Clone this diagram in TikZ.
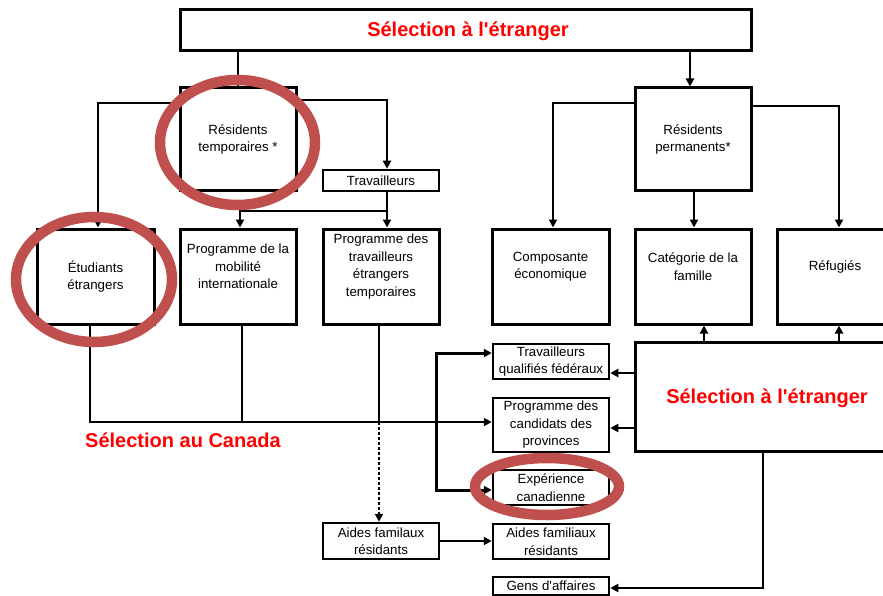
\documentclass[tikz,border=0pt]{standalone}
\usepackage{fontspec}
\setmainfont{Liberation Sans}[Ligatures=TeXOff]
\usetikzlibrary{arrows.meta}
\definecolor{ringc}{HTML}{C0504D}
\begin{document}
\begin{tikzpicture}[x=1pt,y=-1pt,
  box/.style={draw, line width=3pt, inner sep=0pt, align=center, minimum width=116pt, minimum height=95pt, font=\fontsize{13.3}{17.5}\selectfont},
  sbox/.style={draw, line width=2.5pt, inner sep=0pt, align=center, minimum width=116pt, font=\fontsize{13.3}{17.5}\selectfont},
  txt/.style={inner sep=0pt, align=center, font=\fontsize{13.3}{17.5}\selectfont},
  redtitle/.style={inner sep=0pt, text=red, font=\fontsize{20}{24}\selectfont\bfseries},
  ln/.style={line width=2.6pt},
  arr/.style={line width=2.6pt, -{Triangle[length=8pt,width=8pt]}},
  dotline/.style={line width=2.6pt, dash pattern=on 2.5pt off 2.5pt, -{Triangle[length=8pt,width=8pt]}},
  ring/.style={draw=ringc, line width=10.5pt}
]
\useasboundingbox (0,0) rectangle (883,596);

% top row
\node[box, minimum width=571pt, minimum height=41pt] (top) at (465.5,30.5) {};
\node[redtitle] (topt) at (468,31) {Sélection à l'étranger};
\node[box, minimum height=103pt] (rt) at (238,139.5) {Résidents\\temporaires *};
\node[box, minimum height=103pt] (rp) at (693,139.5) {Résidents\\permanents*};
\node[box, line width=2.5pt, minimum height=21pt] (trav) at (381,180.5) {Travailleurs};

% second row
\node[box, minimum width=117pt] (etu) at (95.5,276.5) {Étudiants\\étrangers};
\node[box] (pmi) at (238,276.5) {};
\node[txt] (pmit) at ([yshift=10pt]pmi.center) {Programme de la\\mobilité\\internationale};
\node[box] (ptet) at (381,276.5) {};
\node[txt] (ptett) at ([yshift=10pt]ptet.center) {Programme des\\travailleurs\\étrangers\\temporaires};
\node[box, minimum width=117pt] (comp) at (550.5,276.5) {};
\node[txt] (compt) at ([yshift=10pt]comp.center) {Composante\\économique};
\node[box] (cat) at (693,276.5) {};
\node[txt] (catt) at ([yshift=10pt]cat.center) {Catégorie de la\\famille};
\node[box] (ref) at (835,276.5) {};
\node[txt] (reft) at ([yshift=10pt]ref.center) {Réfugiés};

% right big box
\node[box, minimum width=265pt, minimum height=109pt] (big) at (767.5,396.5) {};
\node[redtitle] (bigt) at (767,398) {Sélection à l'étranger};

% programme boxes
\node[sbox, minimum height=35pt] (tqf) at (551,361.5) {Travailleurs\\qualifiés fédéraux};
\node[sbox, minimum height=54pt] (pcp) at (551,425) {Programme des\\candidats des\\provinces};
\node[sbox, minimum height=35pt] (exp) at (551,487.5) {Expérience\\canadienne};
\node[sbox, minimum height=35pt] (afr) at (551,541.5) {Aides familiaux\\résidants};
\node[sbox, minimum height=18pt] (ga) at (551,586) {Gens d'affaires};
\node[sbox, minimum height=36pt] (afl) at (381,541) {Aides familaux\\résidants};

\node[redtitle] (sac) at (183,440) {Sélection au Canada};

% helper coordinates
\coordinate (yjoin) at (0,211);
\coordinate (cy) at (0,422);
\coordinate (vx) at (436,422);
\coordinate (split) at ([xshift=6pt]trav.south |- yjoin);

% connectors
\draw[ln] (top.south -| rt.north) -- (rt.north);
\draw[arr] ([xshift=-3pt]rp.north |- top.south) -- ([xshift=-3pt]rp.north);
\draw[arr] ([yshift=36.5pt]rt.west) -| ([xshift=2.5pt]etu.north);
\draw[arr] ([yshift=39.5pt]rt.east) -| ([xshift=6pt]trav.north);
\draw[arr] ([xshift=6pt]trav.south) -- ([xshift=6pt]ptet.north);
\draw[arr] (split) -| ([xshift=2pt]pmi.north);
\draw[arr] ([yshift=36.5pt]rp.west) -| ([xshift=2.5pt]comp.north);
\draw[arr] ([xshift=1pt]rp.south) -- ([xshift=1pt]cat.north);
\draw[arr] ([yshift=33.5pt]rp.east) -| ([xshift=4pt]ref.north);
\draw[arr] ([xshift=11pt]cat.south |- big.north) -- ([xshift=11pt]cat.south);
\draw[arr] ([xshift=4pt]ref.south |- big.north) -- ([xshift=4pt]ref.south);
\draw[arr] ([yshift=-11.5pt]tqf.east -| big.west) -- ([yshift=-11.5pt]tqf.east);
\draw[arr] ([yshift=-3pt]pcp.east -| big.west) -- ([yshift=-3pt]pcp.east);
\draw[arr] ([xshift=-4.5pt]big.south) |- ([yshift=-2pt]ga.east);

\draw[arr] ([xshift=-5.5pt]etu.south) |- ([yshift=3pt]pcp.west);
\draw[ln] ([xshift=4pt]pmi.south) -- ([xshift=4pt]pmi.south |- cy);
\draw[ln] ([xshift=-2pt]ptet.south) -- ([xshift=-2pt]ptet.south |- cy);
\draw[dotline] ([xshift=-2pt]ptet.south |- cy) -- ([xshift=-2pt]afl.north);
\draw[arr, line width=3pt] (vx) |- ([yshift=8.5pt]tqf.west);
\draw[arr, line width=3pt] (vx) |- ([yshift=-2.5pt]exp.west);
\draw[arr] (afl.east) -- (afl.east -| afr.west);

% highlight rings
\draw[ring] (237.5,142.5) ellipse [x radius=77.5pt, y radius=62.5pt];
\draw[ring] (94,279.5) ellipse [x radius=78pt, y radius=62.5pt];
\draw[ring] (547,486.5) ellipse [x radius=72pt, y radius=28.5pt];
\end{tikzpicture}
\end{document}
